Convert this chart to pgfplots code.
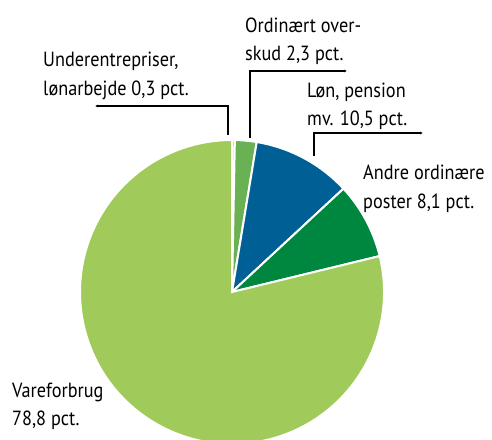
\documentclass[border=0pt]{standalone}
\usepackage{pgfplots}
\pgfplotsset{compat=1.18}
\usepackage{pgfplotstable}
\usepackage{fontspec}
\setmainfont{PT Sans}[FakeStretch=0.89]
\usetikzlibrary{arrows.meta}

\definecolor{vare}{HTML}{A0CA5A}
\definecolor{overskud}{HTML}{6AB154}
\definecolor{loen}{HTML}{006095}
\definecolor{andre}{HTML}{00873F}

% andele i pct., med uret fra kl. 12
\pgfplotstableread[col sep=comma]{
name,pct,col
Underentrepriser,0.3,vare
Overskud,2.3,overskud
Loen,10.5,loen
Andre,8.1,andre
Vareforbrug,78.8,vare
}\piedata

\begin{document}
\begin{tikzpicture}[lbl/.style={anchor=base west,inner sep=0pt,font=\fontsize{20.5}{28}\selectfont},
  lead/.style={line width=1.3pt,-{Latex[length=3pt,width=3pt]}}]
\begin{axis}[
  width=492pt, height=439pt, scale only axis,
  xmin=0, xmax=492, ymin=0, ymax=439, y dir=reverse,
  hide axis, clip=true,
]
\def\astart{90}
\pgfplotsforeachungrouped \i in {0,...,4}{
  \pgfplotstablegetelem{\i}{pct}\of\piedata \let\p=\pgfplotsretval
  \pgfplotstablegetelem{\i}{col}\of\piedata \let\c=\pgfplotsretval
  \pgfmathsetmacro\aend{\astart-3.6*\p}
  \edef\tmp{\noexpand\fill[\c,draw=white,line width=2pt] (axis cs:232,292) -- ++(\astart:152pt)
    arc[start angle=\astart,end angle=\aend,radius=152pt] -- cycle;}
  \tmp
  \global\let\astart\aend
}

% ledelinjer
\draw[lead] (axis cs:228,135) -- (axis cs:228,106) -- (axis cs:95,106);
\draw[lead] (axis cs:250,138) -- (axis cs:250,71) -- (axis cs:347,71);
\draw[lead] (axis cs:314,156) -- (axis cs:314,133) -- (axis cs:423,133);

\node[lbl] at (axis cs:43,66) {Underentrepriser,};
\node[lbl] at (axis cs:43,95) {lønarbejde 0,3 pct.};
\node[lbl] at (axis cs:245,32) {Ordinært over-};
\node[lbl] at (axis cs:245,60) {skud 2,3 pct.};
\node[lbl] at (axis cs:307,97) {Løn, pension};
\node[lbl] at (axis cs:307,125) {mv. 10,5 pct.};
\node[lbl] at (axis cs:363,179) {Andre ordinære};
\node[lbl] at (axis cs:363,208) {poster 8,1 pct.};
\node[lbl] at (axis cs:12,397) {Vareforbrug};
\node[lbl] at (axis cs:12,425) {78,8 pct.};
\end{axis}
\pgfresetboundingbox
\path (0,0) rectangle (492pt,439pt);
\end{tikzpicture}
\end{document}
